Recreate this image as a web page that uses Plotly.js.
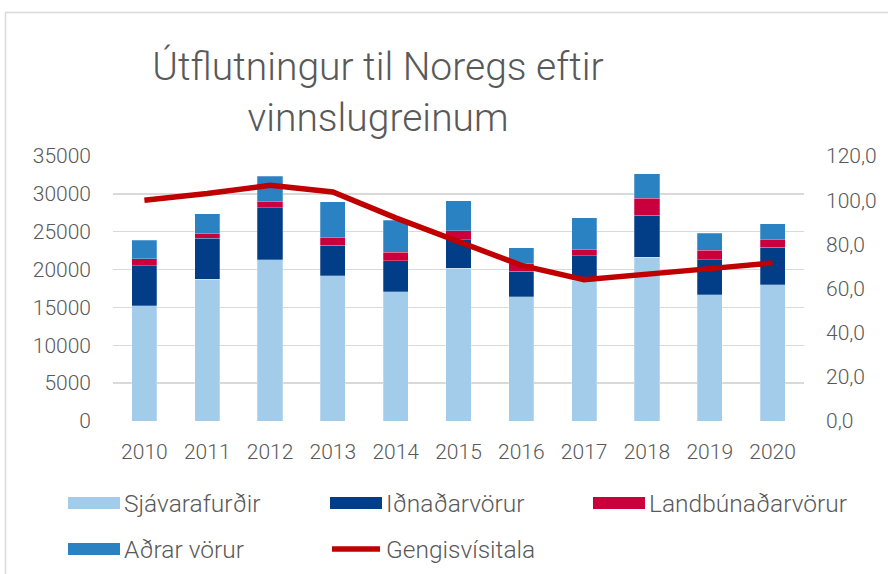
<!DOCTYPE html>
<html>
<head>
<meta charset="utf-8">
<script src="https://cdn.plot.ly/plotly-3.0.1.min.js"></script>
<style>html,body{margin:0;padding:0;background:#fff;}#chart{width:888px;height:574px;}</style>
</head>
<body>
<div id="chart"></div>
<script>
var years = ['2010','2011','2012','2013','2014','2015','2016','2017','2018','2019','2020'];
var seriesNames = ['Sjávarafurðir','Iðnaðarvörur','Landbúnaðarvörur','Aðrar vörur','Gengisvísitala'];
var sjavarafurdir = [15200,18700,21300,19200,17100,20200,16400,18600,21600,16700,18000];
var idnadarvorur = [5300,5450,6850,4000,4050,3750,3400,3200,5600,4600,4950];
var landbunadarvorur = [900,620,800,1050,1150,1200,1000,850,2250,1230,980];
var adrarVorur = [2500,2600,3400,4700,4200,3950,2100,4200,3200,2250,2100];
var gengisvisitala = [100,103,106.7,103.7,92,81,70.5,64,66.3,69,71.6];
var leftTicks = [0,5000,10000,15000,20000,25000,30000,35000];
var rightTicks = [0,20,40,60,80,100,120];

var colors = ['#A3CBEA','#023E87','#C9003B','#2B82C3','#C00000'];
var FONT = 'Roboto, "Open Sans", sans-serif';
var TXT = '#595959';

function bar(name, vals, color){
  return {type:'bar', name:name, x:years, y:vals, marker:{color:color, line:{color:'rgba(255,255,255,0.5)', width:0.5}}, showlegend:false, hoverinfo:'y'};
}
var data = [
  bar(seriesNames[0], sjavarafurdir, colors[0]),
  bar(seriesNames[1], idnadarvorur, colors[1]),
  bar(seriesNames[2], landbunadarvorur, colors[2]),
  bar(seriesNames[3], adrarVorur, colors[3]),
  {type:'scatter', mode:'lines', name:seriesNames[4], x:years, y:gengisvisitala, yaxis:'y2',
   line:{color:colors[4], width:5.5}, showlegend:false}
];

// custom legend (pixel -> paper)
var L=113, R=804, T=156, B=421;
function px(x){return (x-L)/(R-L);}
function py(y){return (B-y)/(B-T);}
var legendItems = [
  {i:0, x:68, y:503},
  {i:1, x:330, y:503},
  {i:2, x:593, y:503},
  {i:3, x:68, y:549},
  {i:4, x:330, y:549}
];
var shapes = [
  {type:'rect', xref:'paper', yref:'paper', x0:px(5.5), x1:px(900), y0:py(12.5), y1:py(600),
   line:{color:'#D9D9D9', width:1.5}, fillcolor:'rgba(0,0,0,0)', layer:'below'}
];
var annotations = [];
legendItems.forEach(function(it){
  if(it.i===4){
    shapes.push({type:'line', xref:'paper', yref:'paper', x0:px(it.x+2), x1:px(it.x+50), y0:py(it.y), y1:py(it.y),
      line:{color:colors[4], width:5.5}});
  } else {
    shapes.push({type:'rect', xref:'paper', yref:'paper', x0:px(it.x), x1:px(it.x+52), y0:py(it.y-6), y1:py(it.y+6),
      line:{width:0}, fillcolor:colors[it.i]});
  }
  annotations.push({xref:'paper', yref:'paper', x:px(it.x+54), y:py(it.y), xanchor:'left', yanchor:'middle',
    text:seriesNames[it.i], showarrow:false, font:{family:FONT, size:24.5, color:TXT, weight:300}});
});

var tf = {family:FONT, size:21, color:TXT, weight:300};
var layout = {
  width:888, height:574,
  margin:{l:L, r:888-R, t:T, b:574-B, pad:0},
  paper_bgcolor:'#fff', plot_bgcolor:'#fff',
  barmode:'stack', bargap:0.6,
  separators:', ',
  showlegend:false,
  title:{text:'Útflutningur til Noregs eftir<br>vinnslugreinum', xref:'container', yref:'container',
    x:378/888, xanchor:'center', y:1-80/574, yanchor:'top',
    font:{family:FONT, size:39, color:TXT, weight:300}},
  xaxis:{type:'category', showgrid:false, showline:false, zeroline:false, ticks:'',
    tickfont:tf, ticklabelstandoff:16},
  yaxis:{range:[0,35000], tickvals:leftTicks, tickformat:'d', showgrid:true, gridcolor:'#D9D9D9', gridwidth:1.5,
    zeroline:false, showline:false, ticks:'', tickfont:tf, ticklabelstandoff:21},
  yaxis2:{range:[0,120], tickvals:rightTicks, tickformat:'.1f', overlaying:'y', side:'right', showgrid:false,
    zeroline:false, showline:false, ticks:'', tickfont:tf, ticklabelstandoff:21},
  shapes:shapes,
  annotations:annotations
};
Plotly.newPlot('chart', data, layout, {staticPlot:true, displayModeBar:false});
</script>
</body>
</html>
